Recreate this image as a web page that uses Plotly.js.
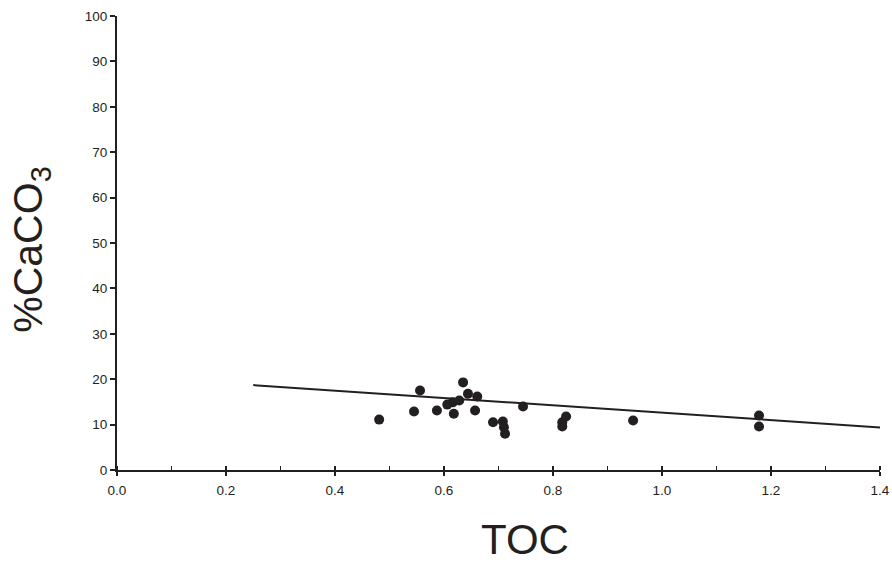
<!DOCTYPE html>
<html>
<head>
<meta charset="utf-8">
<script src="https://cdn.plot.ly/plotly-3.0.1.min.js"></script>
<style>html,body{margin:0;padding:0;background:#fff;}#chart{width:892px;height:566px;}</style>
</head>
<body>
<div id="chart"></div>
<script>
// Sample data: TOC (wt%) vs %CaCO3
var toc = [0.481, 0.556, 0.545, 0.587, 0.606, 0.618, 0.616, 0.628, 0.635, 0.644, 0.661, 0.657,
           0.690, 0.708, 0.710, 0.712, 0.745, 0.824, 0.817, 0.817, 0.947, 1.178, 1.178];
var caco3 = [11.1, 17.5, 12.9, 13.1, 14.4, 12.4, 14.9, 15.3, 19.3, 16.8, 16.2, 13.1,
             10.5, 10.7, 9.4, 8.0, 14.0, 11.8, 10.5, 9.6, 10.9, 12.0, 9.6];
// Trend line end points
var trendX = [0.25, 1.41];
var trendY = [18.7, 9.3];

var xTickVals = [0, 0.2, 0.4, 0.6, 0.8, 1.0, 1.2, 1.4];
var xTickText = ["0.0", "0.2", "0.4", "0.6", "0.8", "1.0", "1.2", "1.4"];
var yTickVals = [0, 10, 20, 30, 40, 50, 60, 70, 80, 90, 100];

var ink = "#231f20";
var traces = [
  {x: trendX, y: trendY, mode: "lines", line: {color: ink, width: 2}, hoverinfo: "skip", cliponaxis: false},
  {x: toc, y: caco3, mode: "markers", marker: {color: ink, size: 10}, cliponaxis: false}
];

var layout = {
  width: 892, height: 566,
  margin: {l: 117, r: 12, t: 16, b: 95.5},
  paper_bgcolor: "#fff", plot_bgcolor: "#fff",
  showlegend: false,
  font: {family: "Liberation Sans, Arial, sans-serif", color: "#231f20", size: 13},
  xaxis: {
    range: [0, 1.4], tickvals: xTickVals, ticktext: xTickText,
    showgrid: false, zeroline: false, showline: true, linecolor: ink, linewidth: 2,
    ticks: "outside", ticklen: 4, tickwidth: 2, tickcolor: ink,
    minor: {dtick: 0.1, tick0: 0, ticks: "inside", ticklen: 4, tickwidth: 1.5, tickcolor: ink, showgrid: false},
    tickfont: {size: 13.5}, ticklabelstandoff: 3, fixedrange: true
  },
  yaxis: {
    range: [0, 100], tickvals: yTickVals,
    showgrid: false, zeroline: false, showline: true, linecolor: ink, linewidth: 2,
    ticks: "outside", ticklen: 5, tickwidth: 2, tickcolor: ink,
    tickfont: {size: 13.5}, fixedrange: true
  },
  annotations: [
    {text: "%CaCO<sub>3</sub>", xref: "paper", yref: "paper", x: (31 - 117) / 763, y: (470.5 - 250) / 454.5,
     xanchor: "center", yanchor: "middle", textangle: -90, showarrow: false,
     font: {size: 41, family: "Liberation Sans, Arial, sans-serif", color: ink}},
    {text: "TOC", xref: "paper", yref: "paper", x: (525 - 117) / 763, y: (470.5 - 540) / 454.5,
     xanchor: "center", yanchor: "middle", showarrow: false,
     font: {size: 42, family: "Liberation Sans, Arial, sans-serif", color: ink}}
  ]
};

Plotly.newPlot("chart", traces, layout, {displayModeBar: false, staticPlot: true});
</script>
</body>
</html>
